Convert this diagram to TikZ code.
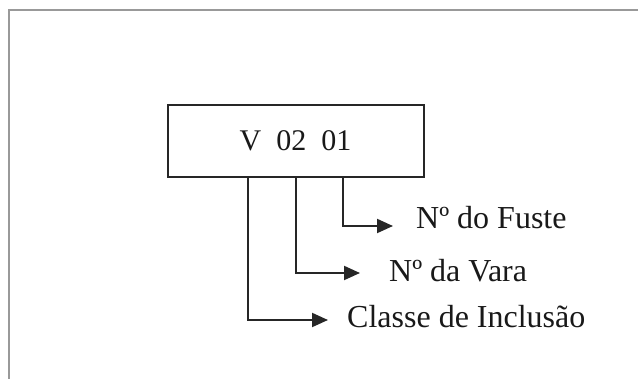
\documentclass[tikz,border=0pt]{standalone}
\usepackage{fontspec}
\setmainfont{Liberation Serif}
\usetikzlibrary{arrows.meta}
\begin{document}
\begin{tikzpicture}[x=1pt,y=-1pt,
  conn/.style={draw=black!85, line width=2pt, -{Triangle[length=16pt,width=14pt]}},
  lbl/.style={anchor=base west, inner sep=0pt, font=\fontsize{32}{36}\selectfont, text=black!90}]
\useasboundingbox (0,0) rectangle (638,379);
\fill[white] (0,0) rectangle (638,379);
\draw[gray!80, line width=1.5pt] (9,379) -- (9,10) -- (638,10);
\node[draw=black!85, line width=2pt, minimum width=256pt, minimum height=72pt, inner sep=0pt,
  font=\fontsize{30}{34}\selectfont, text=black!90] (box) at (295.5,141) {V\ \ 02\ \ 01};
\node[lbl] (fuste) at (416,229) {Nº do Fuste};
\node[lbl] (vara) at (389,282) {Nº da Vara};
\node[lbl] (classe) at (347,328) {Classe de Inclusão};
\coordinate (a1) at (343,177);
\coordinate (a2) at (296,177);
\coordinate (a3) at (248,177);
\coordinate (t1) at (393,226);
\coordinate (t2) at (360,273);
\coordinate (t3) at (328,320);
\draw[conn] (a1) |- (t1);
\draw[conn] (a2) |- (t2);
\draw[conn] (a3) |- (t3);
\end{tikzpicture}
\end{document}
